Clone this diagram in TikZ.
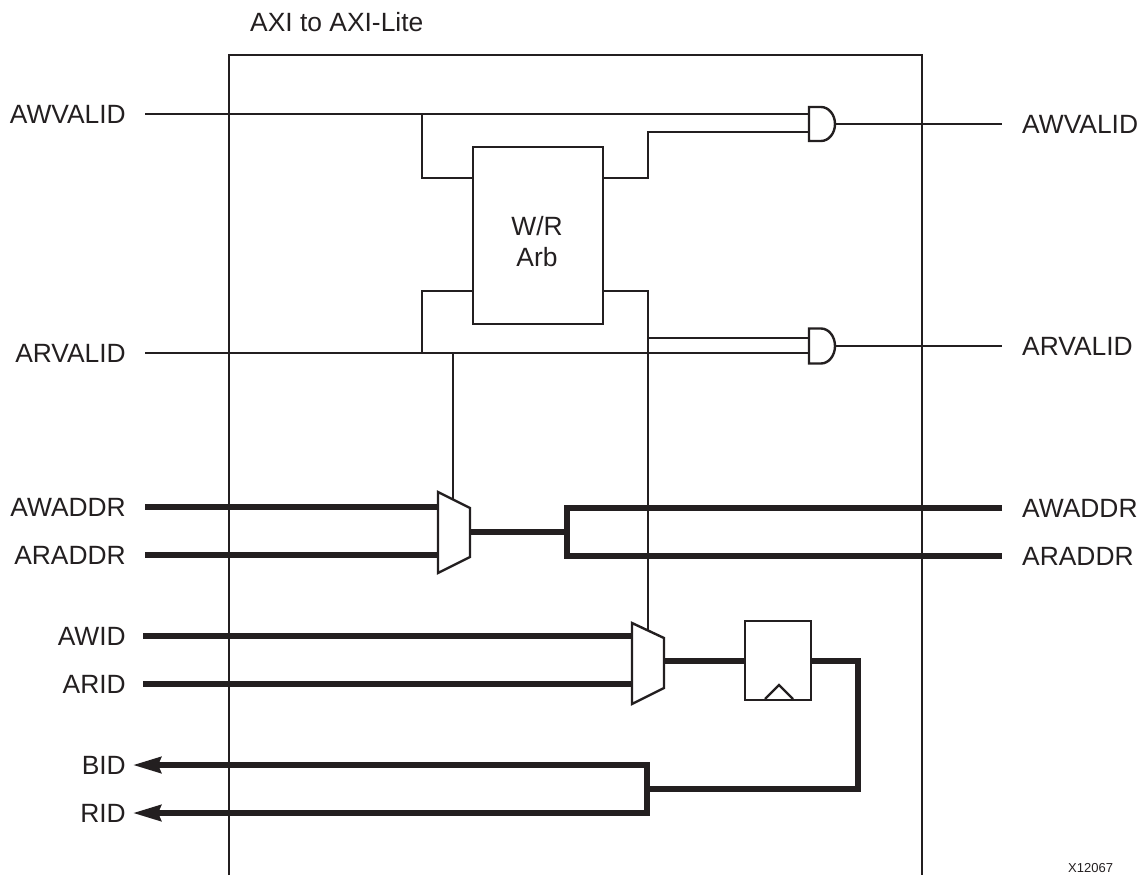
\documentclass[tikz,border=0pt]{standalone}
\usepackage{fontspec}
\setmainfont{Liberation Sans}
\usetikzlibrary{arrows.meta}
\definecolor{ink}{HTML}{231F20}
\begin{document}
\begin{tikzpicture}[x=1pt,y=-1pt,
  wire/.style={draw=ink, line width=2.4pt, line join=miter},
  bus/.style={draw=ink, line width=5.5pt, line join=miter},
  lbl/.style={font=\fontsize{26.4}{31}\selectfont, text=ink, inner sep=0pt},
  gateshape/.style={draw=ink, line width=2.4pt, fill=white, line join=miter},
  twoarrows/.style={arrows={Stealth[length=28pt, width=16pt, inset=3pt]-Stealth[length=28pt, width=16pt, inset=3pt]}}]
\useasboundingbox (0,0) rectangle (1139,875);
% outer block
\draw[wire] (229,875) -- (229,55) -- (922,55) -- (922,875);
\node[lbl, anchor=base west] (title) at (250,32) {AXI to AXI-Lite};
\node[font=\fontsize{13}{15}\selectfont, text=ink, inner sep=0pt, anchor=base west] (fig) at (1068,872) {X12067};

% arbiter
\node[draw=ink, line width=2.4pt, minimum width=130pt, minimum height=177pt, inner sep=0pt, anchor=north west] (arb) at (472,146) {};
\node[lbl, align=center] (arbtxt) at (537,242) {W/R\\Arb};

% coordinates
\coordinate (awv) at (145,114);
\coordinate (arv) at (145,353);
\coordinate (and1a) at (809,114);
\coordinate (and1b) at (809,132);
\coordinate (and1o) at (835,124);
\coordinate (and2a) at (809,338);
\coordinate (and2b) at (809,353);
\coordinate (and2o) at (835,346);
\coordinate (awvo) at (1002,124);
\coordinate (arvo) at (1002,346);
\coordinate (arbwi) at (472,178);
\coordinate (arbri) at (472,291);
\coordinate (arbwo) at (602,178);
\coordinate (arbro) at (602,291);

% left labels
\node[lbl, anchor=east] (lawv) at (126,114) {AWVALID};
\node[lbl, anchor=east] (larv) at (126,353) {ARVALID};
\node[lbl, anchor=east] (lawa) at (126,507) {AWADDR};
\node[lbl, anchor=east] (lara) at (126,555) {ARADDR};
\node[lbl, anchor=east] (lawi) at (126,636) {AWID};
\node[lbl, anchor=east] (lari) at (126,684) {ARID};
\node[lbl, anchor=east] (lbid) at (126,765) {BID};
\node[lbl, anchor=east] (lrid) at (126,813) {RID};
% right labels
\node[lbl, anchor=west] (rawv) at (1022,124) {AWVALID};
\node[lbl, anchor=west] (rarv) at (1022,346) {ARVALID};
\node[lbl, anchor=west] (rawa) at (1022,508) {AWADDR};
\node[lbl, anchor=west] (rara) at (1022,556) {ARADDR};

% valid wiring
\draw[wire] (awv) -- (and1a);
\draw[wire] (422,114) -- (422,178) -- (arbwi);
\draw[wire] (arbwo) -- (648,178) -- (648,132) -- (and1b);
\draw[wire] (arv) -- (and2b);
\draw[wire] (422,353) -- (422,291) -- (arbri);
\draw[wire] (arbro) -- (648,291) -- (648,630);
\draw[wire] (648,338) -- (and2a);
\draw[wire] (and1o) -- (awvo);
\draw[wire] (and2o) -- (arvo);

% AND gates
\draw[gateshape] (809,107) -- (821,107) arc[start angle=-90, end angle=90, x radius=14, y radius=17] -- (809,141) -- cycle;
\draw[gateshape] (809,328.5) -- (821,328.5) arc[start angle=-90, end angle=90, x radius=14, y radius=17.5] -- (809,363.5) -- cycle;

% address mux
\draw[bus] (145,507) -- (438,507);
\draw[bus] (145,555) -- (438,555);
\draw[bus] (470,532) -- (567,532);
\draw[bus] (1002,508) -- (567,508) -- (567,556) -- (1002,556);
\draw[gateshape] (438,492) -- (470,508) -- (470,557) -- (438,573) -- cycle;
\draw[wire] (453,353) -- (453,499);

% id mux
\draw[bus] (143,636) -- (632,636);
\draw[bus] (143,684) -- (632,684);
\draw[bus] (664,661) -- (744,661);
\draw[gateshape] (632,623) -- (664,638) -- (664,688) -- (632,704) -- cycle;

% register
\node[draw=ink, line width=2.4pt, minimum width=66pt, minimum height=79pt, inner sep=0pt, anchor=north west] (reg) at (744,620) {};
\draw[wire] (765,699) -- (779,685) -- (793,699);
\draw[bus] (810,661) -- (858,661) -- (858,789) -- (647,789);
\draw[bus, twoarrows] (133,765) -- (647,765) -- (647,813) -- (133,813);
\end{tikzpicture}
\end{document}
